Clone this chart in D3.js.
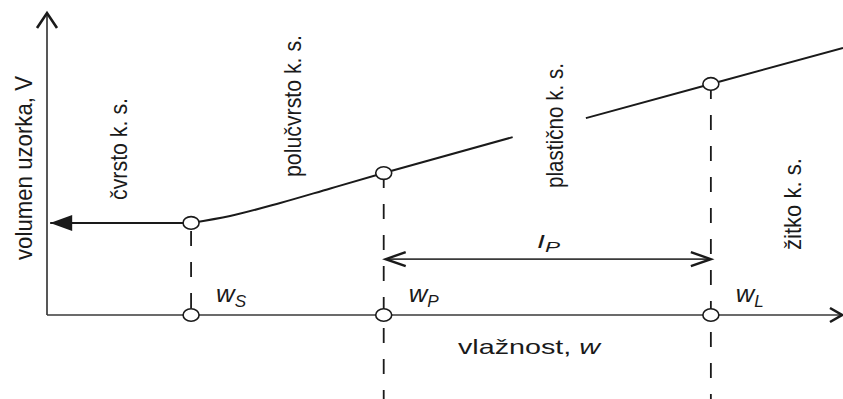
<!DOCTYPE html>
<html><head><meta charset="utf-8">
<script src="https://cdn.jsdelivr.net/npm/d3@7"></script>
<style>
body{margin:0;background:#fff}
svg{display:block}
text{font-family:"Liberation Sans",Arial,Helvetica,sans-serif;fill:#1a1a1a}
</style>
</head><body>
<svg id="chart" width="843" height="399"></svg>
<script>
// ---- data ----
const axisTitleY = "volumen uzorka, V";
const axisTitleX = "vlažnost, ";
const axisSymbolX = "w";
const regionLabels = ["čvrsto k. s.", "polučvrsto k. s.", "plastično k. s.", "žitko k. s."];
const limitNames = ["S", "P", "L"];
const limitW = [18.1, 42.3, 83.4];          // w_S, w_P, w_L
const limitV = [30.5, 47.0, 76.5];          // volume at the limits
const shrinkW = [0.4, 18.1];                // constant volume part (solid)
const shrinkV = [30.5, 30.5];
const semiW = [18.1, 23.0, 29.3, 35.6, 42.3];   // semi-solid, curved part
const semiV = [30.5, 32.8, 37.1, 41.9, 47.0];
const plastW = [42.3, 58.5];                // plastic part (before label gap)
const plastV = [47.0, 58.9];
const liquidW = [67.7, 83.4, 100];          // after label gap, through w_L
const liquidV = [65.2, 76.5, 88.4];
const ipLabel = ["I", "P"];
const ipV = 18.5;

// ---- layout ----
const W = 843, H = 399;
const svg = d3.select("#chart");
const x = d3.scaleLinear().domain([0, 100]).range([47, 843]);
const y = d3.scaleLinear().domain([0, 100]).range([315, 13]);
const ink = "#1a1a1a", axisInk = "#3a3a3a";

// axes
const x0 = x(0), y0 = y(0);
svg.append("line").attr("x1", x0).attr("y1", y0).attr("x2", x0).attr("y2", y(100) + 1)
  .attr("stroke", axisInk).attr("stroke-width", 1.7);
svg.append("line").attr("x1", x0).attr("y1", y0).attr("x2", x(100) - 1).attr("y2", y0)
  .attr("stroke", axisInk).attr("stroke-width", 1.7);
// axis arrowheads
svg.append("path").attr("d", `M${x0 - 10},${y(100) + 15} L${x0},${y(100)} L${x0 + 10},${y(100) + 15}`)
  .attr("fill", "none").attr("stroke", ink).attr("stroke-width", 2.6).attr("stroke-linejoin", "miter");
svg.append("path").attr("d", `M${x(100) - 13},${y0 - 7} L${x(100) - 1},${y0} L${x(100) - 13},${y0 + 7}`)
  .attr("fill", "none").attr("stroke", ink).attr("stroke-width", 2.6);

// dashed limit lines
const dash = "15,16";
limitW.forEach((w, i) => {
  const bottom = i === 0 ? y0 : H + 2;
  svg.append("line").attr("x1", x(w)).attr("x2", x(w))
    .attr("y1", y(limitV[i])).attr("y2", bottom)
    .attr("stroke", ink).attr("stroke-width", 1.8)
    .attr("stroke-dasharray", dash).attr("stroke-dashoffset", i === 0 ? 23 : 0);
});

// curve pieces
const lineGen = d3.line().x(d => x(d[0])).y(d => y(d[1]));
const zip = (a, b) => a.map((v, i) => [v, b[i]]);
svg.append("path").attr("d", lineGen(zip(shrinkW, shrinkV)))
  .attr("fill", "none").attr("stroke", ink).attr("stroke-width", 2);
svg.append("path").attr("d", lineGen.curve(d3.curveMonotoneX)(zip(semiW, semiV)))
  .attr("fill", "none").attr("stroke", ink).attr("stroke-width", 2);
lineGen.curve(d3.curveLinear);
svg.append("path").attr("d", lineGen(zip(plastW, plastV)))
  .attr("fill", "none").attr("stroke", ink).attr("stroke-width", 2);
svg.append("path").attr("d", lineGen(zip(liquidW, liquidV)))
  .attr("fill", "none").attr("stroke", ink).attr("stroke-width", 2);
// filled arrowhead at the left end of the constant part
const ax = x(shrinkW[0]), ay = y(shrinkV[0]);
svg.append("path").attr("d", `M${ax},${ay} L${ax + 22},${ay - 8} L${ax + 22},${ay + 8} Z`).attr("fill", ink);

// I_P double arrow
const ipY = y(ipV), ipA = x(limitW[1]) + 2, ipB = x(limitW[2]);
svg.append("line").attr("x1", ipA).attr("x2", ipB).attr("y1", ipY).attr("y2", ipY)
  .attr("stroke", axisInk).attr("stroke-width", 1.7);
svg.append("path").attr("d", `M${ipA + 20},${ipY - 7} L${ipA},${ipY} L${ipA + 20},${ipY + 7}`)
  .attr("fill", "none").attr("stroke", ink).attr("stroke-width", 2.4);
svg.append("path").attr("d", `M${ipB - 20},${ipY - 7} L${ipB},${ipY} L${ipB - 20},${ipY + 7}`)
  .attr("fill", "none").attr("stroke", ink).attr("stroke-width", 2.4);

// limit markers (on curve and on the w axis)
limitW.forEach((w, i) => {
  [[w, limitV[i]], [w, 0]].forEach(p => {
    svg.append("ellipse").attr("cx", x(p[0])).attr("cy", y(p[1]))
      .attr("rx", 8).attr("ry", 6.3)
      .attr("fill", "#fff").attr("stroke", ink).attr("stroke-width", 1.6);
  });
});

// limit labels w_S, w_P, w_L
const limLen = [30, 30, 28];
limitW.forEach((w, i) => {
  const t = svg.append("text").attr("x", x(w) + 25).attr("y", y0 - 13)
    .attr("textLength", limLen[i]).attr("lengthAdjust", "spacingAndGlyphs");
  t.append("tspan").attr("font-size", 24).attr("font-style", "italic").text("w");
  t.append("tspan").attr("font-size", 16).attr("font-style", "italic").attr("dy", 5).text(limitNames[i]);
});

// I_P label
const ipT = svg.append("text").attr("x", 537).attr("y", ipY - 11)
  .attr("textLength", 23).attr("lengthAdjust", "spacingAndGlyphs");
ipT.append("tspan").attr("font-size", 19).attr("font-style", "italic").text(ipLabel[0]);
ipT.append("tspan").attr("font-size", 15).attr("font-style", "italic").attr("dy", 4).text(ipLabel[1]);

// x axis title
const xt = svg.append("text").attr("x", 458).attr("y", 354)
  .attr("textLength", 142).attr("lengthAdjust", "spacingAndGlyphs").attr("font-size", 21);
xt.append("tspan").text(axisTitleX);
xt.append("tspan").attr("font-style", "italic").text(axisSymbolX);

// rotated texts
function vtext(str, bx, by, len) {
  svg.append("text").attr("transform", `translate(${bx},${by}) rotate(-90)`)
    .attr("font-size", 24).attr("textLength", len).attr("lengthAdjust", "spacingAndGlyphs")
    .text(str);
}
vtext(axisTitleY, 32, 260, 184);
const regionPos = [[127, 200, 102], [301, 177, 142], [563, 188, 125], [801, 250, 92]];
regionLabels.forEach((s, i) => vtext(s, ...regionPos[i]));
</script>
</body></html>
